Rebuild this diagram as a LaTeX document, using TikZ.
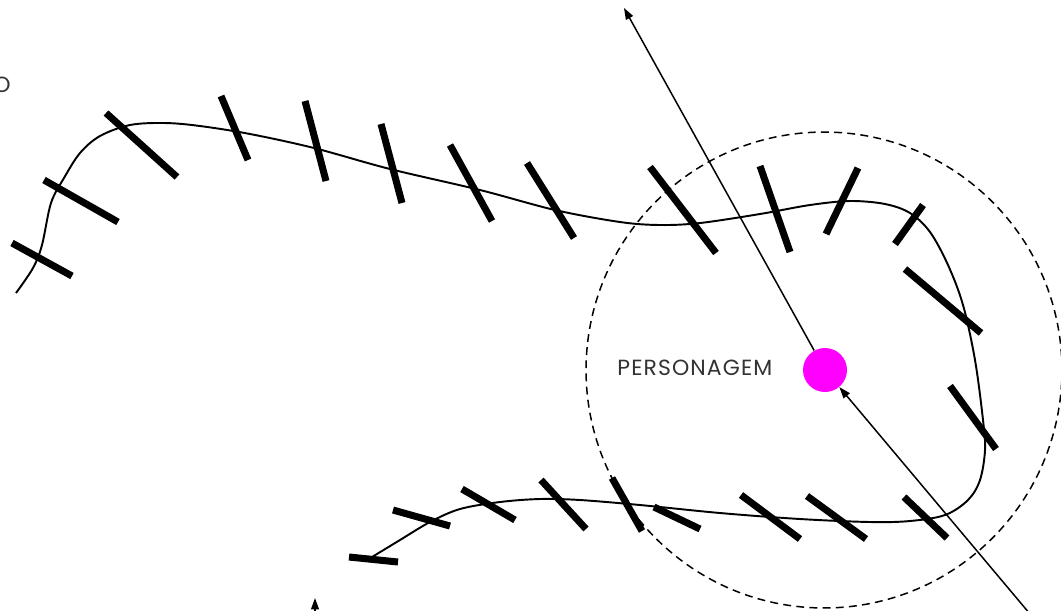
\documentclass[tikz,border=0pt]{standalone}
\usepackage{fontspec}
\newfontfamily\labelfont{Poppins}[LetterSpace=5]
\usepackage{xcolor}
\usepackage{tikz}
\usetikzlibrary{arrows.meta, positioning, shapes.geometric}
\definecolor{heropink}{HTML}{FF00FF}
\definecolor{labelgray}{HTML}{333333}
\tikzset{
  track/.style={line width=1.1pt, black},
  marker/.style={line width=4pt, black},
  hero/.style={circle, fill=heropink, minimum size=0.88cm, inner sep=0pt},
  zone/.style={circle, draw=black, line width=0.85pt, dash pattern=on 4.5pt off 3pt, minimum size=9.52cm, inner sep=0pt},
  tag/.style={font=\labelfont\fontsize{12.5}{14}\selectfont, text=labelgray, inner sep=0pt},
  arrow/.style={-{Triangle[length=6.5pt, width=4.5pt]}, line width=0.85pt}
}
\begin{document}
\begin{tikzpicture}[x=0.02cm, y=-0.02cm]
  \clip (0,0) rectangle (1061,610);
  \useasboundingbox (0,0) rectangle (1061,610);
  % path
  \draw[track] plot[smooth, tension=0.55] coordinates {
    (16,293) (33,268) (42,245) (51,203) (64,178) (80,153) (100,136) (130,125)
    (165,123) (200,126) (250,134) (314,148) (390,169) (480,190) (555,210)
    (620,222) (660,225) (700,223) (760,214) (810,205) (850,201) (885,204)
    (910,213) (930,232) (948,265) (963,305) (975,360) (983,420) (985,450)
    (980,480) (968,500) (945,515) (910,521) (870,522) (800,519) (720,513)
    (640,505) (580,500) (540,499) (500,502) (460,509) (430,522) (400,540)
    (372,557)};
  % markers along the path
  \foreach \xa/\ya/\xb/\yb in {12/243/72/276, 44/180/118/222, 106/113/177/177,
      221/96/248/160, 305/101/326/181, 381/124/402/203, 450/145/492/221,
      527/163/574/238, 650/167/716/253, 760/166/790/252, 858/168/826/234,
      923/205/895/244, 905/269/981/333, 950/386/996/449, 904/497/947/538,
      807/496/866/539, 741/495/800/539, 654/507/700/529, 612/478/642/531,
      541/480/586/529, 462/489/515/520, 393/510/450/526, 349/557/398/562}
    \draw[marker] (\xa,\ya) -- (\xb,\yb);
  % character and range
  \node[hero] (hero) at (825,370) {};
  \node[zone] (range) at (824,370) {};
  \node[tag, left=0.6cm of hero, yshift=0.04cm] (herotag) {PERSONAGEM};
  \node[tag, anchor=east] (cut) at (11,85) {O};
  % directions
  \coordinate (aim) at (624,8);
  \coordinate (source) at (1030,614);
  \coordinate (low) at (315,640);
  \coordinate (lowtip) at (315,598);
  \draw[arrow] (hero) -- (aim);
  \draw[arrow] (source) -- (hero);
  \draw[arrow] (low) -- (lowtip);
\end{tikzpicture}
\end{document}
